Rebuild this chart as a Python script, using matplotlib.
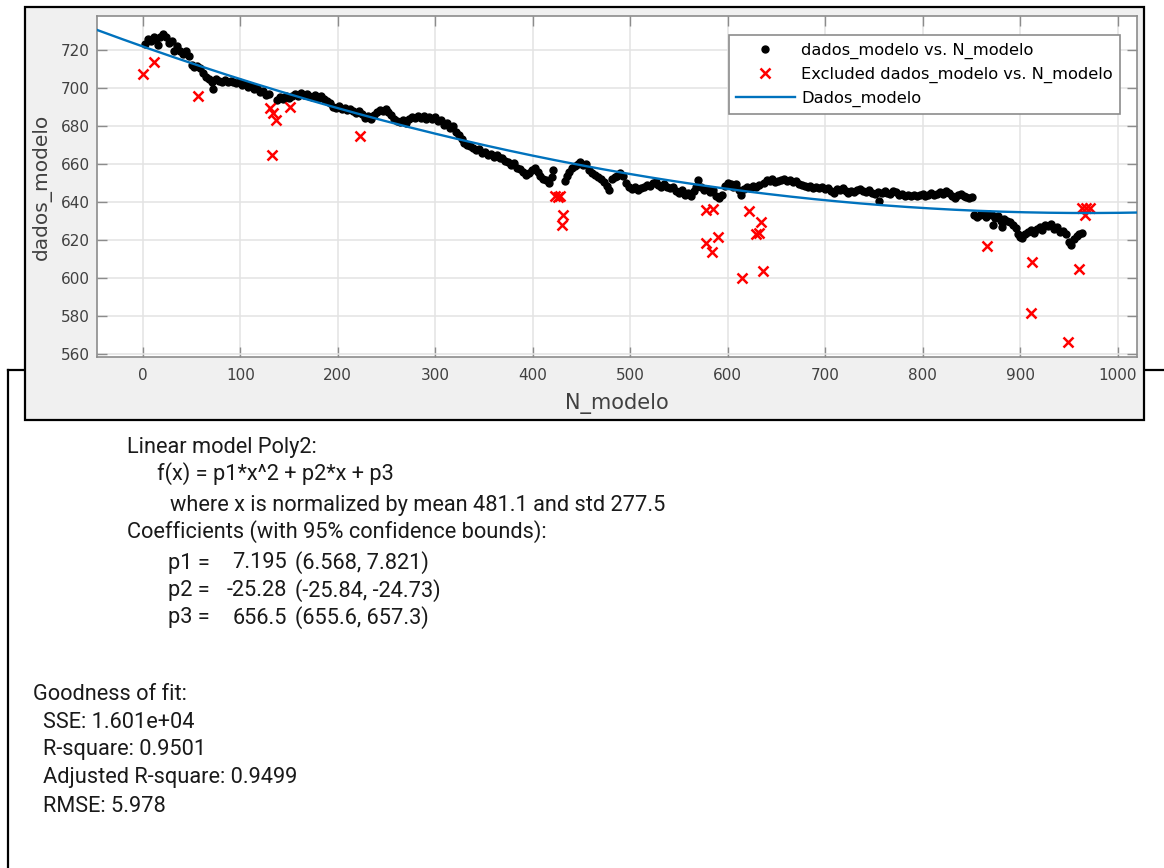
import numpy as np
import matplotlib
matplotlib.use("Agg")
import matplotlib.pyplot as plt
from matplotlib.patches import Rectangle
from matplotlib.lines import Line2D

# ----------------------------------------------------------------------------
# dados
# ----------------------------------------------------------------------------
N_modelo = [
    2, 5, 8, 11, 14, 16, 18, 21, 24, 27, 30, 32, 35, 38, 41, 44, 47, 50, 53, 56, 59,
    62, 65, 68, 71, 72, 75, 78, 81, 84, 87, 90, 93, 96, 99, 102, 105, 108, 111, 114,
    117, 120, 123, 126, 129, 138, 141, 144, 147, 150, 153, 156, 159, 162, 165, 168,
    171, 174, 177, 180, 183, 186, 189, 192, 195, 198, 201, 204, 207, 210, 213, 216,
    219, 222, 225, 228, 231, 234, 237, 240, 243, 246, 249, 252, 255, 258, 261, 264,
    267, 270, 273, 276, 279, 282, 285, 288, 291, 294, 297, 300, 303, 306, 309, 312,
    315, 318, 321, 324, 327, 330, 333, 336, 339, 342, 345, 348, 351, 354, 357, 360,
    363, 366, 369, 372, 375, 378, 381, 384, 387, 390, 393, 396, 399, 402, 405, 408,
    411, 414, 417, 420, 421, 433, 435, 437, 440, 443, 446, 449, 452, 455, 458, 461,
    464, 467, 470, 473, 476, 478, 481, 484, 487, 490, 493, 496, 499, 502, 505, 508,
    511, 514, 517, 520, 523, 526, 529, 532, 535, 538, 541, 544, 547, 550, 553, 556,
    559, 562, 565, 568, 570, 573, 576, 579, 582, 585, 588, 591, 594, 597, 600, 603,
    606, 609, 612, 614, 617, 620, 623, 626, 629, 632, 637, 640, 643, 646, 649, 652,
    655, 658, 661, 664, 667, 670, 673, 676, 679, 682, 685, 688, 691, 694, 697, 700,
    703, 706, 709, 712, 715, 718, 721, 724, 727, 730, 733, 736, 739, 742, 745, 748,
    751, 754, 755, 758, 761, 764, 767, 770, 773, 776, 779, 782, 785, 788, 791, 794,
    797, 800, 803, 806, 809, 812, 815, 818, 821, 824, 827, 830, 833, 836, 839, 842,
    845, 848, 851, 853, 856, 859, 862, 865, 868, 871, 872, 874, 877, 880, 882, 884,
    887, 890, 893, 896, 898, 900, 902, 905, 908, 911, 914, 917, 920, 923, 926, 929,
    932, 935, 938, 941, 944, 947, 950, 952, 955, 958, 961, 964,
]
dados_modelo = [
    723, 726, 725, 727, 726, 722.5, 727, 728.5, 727, 724, 725, 719.5, 722, 719.5, 718,
    719.5, 717, 712, 711, 711.5, 710.5,
    708, 706, 705, 703.5, 699.5, 705, 704, 703.5, 704.5, 703, 704, 703, 702.5, 703.5,
    701.5, 702, 700.5, 701, 699.5, 700, 698, 698.5, 696.5, 697, 694, 695.5, 694.5,
    696, 695, 696, 697, 696, 697.5, 696.5, 697, 696, 695.5, 696.5, 695, 696, 694.5,
    693, 692, 690, 689.5, 690.5, 689, 689.5, 688.5, 689, 688, 687, 688, 686.5, 684.5,
    685.5, 684, 686, 687.5, 688.5, 688, 689, 687.5, 686, 684, 682.5, 682, 683.5, 681.5,
    684, 685, 684.5, 685.5, 684.5, 685.5, 684, 685, 684, 685, 682.5, 683.5, 680.5,
    681.5, 679, 680, 677, 675.5, 673, 671, 670, 669.5, 668.5, 667.5, 668, 666, 666.5,
    665, 665.5, 664, 665, 663.5, 663, 661.5, 661, 659.5, 660.5, 658, 657.5, 656, 654.5,
    655.5, 657, 658, 656, 654, 652, 651.5, 650, 653.5, 657, 651, 654, 656, 658, 659,
    660, 661, 659.5, 660, 657, 655.5, 654.5, 653, 652, 650.5, 648.5, 646.5, 652, 653,
    654, 655.5, 654, 650, 648, 647, 648, 646.5, 647.5, 648, 649, 648.5, 650, 650.5,
    649, 648, 649.5, 648, 647.5, 648, 646, 645, 646.5, 644, 645, 643.5, 646, 648,
    651.5, 648, 646.5, 647, 645.5, 646.5, 643, 642, 644, 648.5, 650, 649.5, 648, 649.5,
    646.5, 644, 647, 648, 647.5, 648.5, 648, 649, 650, 651.5, 651, 652, 650.5, 651,
    651.5, 652, 651, 651.5, 650.5, 651, 649.5, 649, 648.5, 648, 648.5, 647.5, 648,
    647.5, 648, 647, 647.5, 646, 645, 647, 646.5, 647.5, 646, 645, 646, 645.5, 646.5,
    647, 646, 645.5, 646.5, 645, 644.5, 645.5, 640.5, 645, 646, 645, 644.5, 646, 645.5,
    644, 644.5, 643.5, 644, 643.5, 644, 643.5, 644, 644.5, 643.5, 644, 645, 644, 644.5,
    645.5, 644.5, 646, 645, 643.5, 642, 644, 644.5, 643.5, 642.5, 642, 642.5, 633, 632,
    633.5, 634, 632, 634, 633, 628, 631.5, 632.5, 630, 627, 631, 630, 629.5, 628, 626.5,
    623, 621.5, 621, 623, 624.5, 625.5, 624, 626, 627, 625.5, 628, 627.5, 628.5, 626,
    627, 624.5, 625, 623, 619, 617.5, 620.5, 622, 623, 624,
]

# pontos excluídos
N_excl = [0, 11, 57, 130, 134, 137, 133, 151, 223, 423, 426, 428, 431, 430,
          578, 585, 578, 584, 590, 615, 622, 629, 632, 634, 636, 866, 911, 912,
          949, 960, 964, 968, 972, 967]
dados_excl = [707.5, 714, 696, 689.5, 687, 683, 665, 690, 675, 643, 642.5, 643, 633, 628,
              636, 636.5, 618.5, 613.7, 621.5, 600, 635.3, 623.5, 624, 629.6, 604, 617, 581.8,
              608.6, 566.6, 605, 637, 637, 637, 633]

# modelo Poly2 (coeficientes do ajuste)
p1, p2, p3 = 7.195, -25.28, 656.5
x_mean, x_std = 481.1, 277.5

xticks = [0, 100, 200, 300, 400, 500, 600, 700, 800, 900, 1000]
yticks = [560, 580, 600, 620, 640, 660, 680, 700, 720]

info_modelo = [
    "Linear model Poly2:",
    "f(x) = p1*x^2 + p2*x + p3",
    "where x is normalized by mean 481.1 and std 277.5",
    "Coefficients (with 95% confidence bounds):",
]
coef_nomes = ["p1 =", "p2 =", "p3 ="]
coef_valores = ["7.195", "-25.28", "656.5"]
coef_limites = ["(6.568, 7.821)", "(-25.84, -24.73)", "(655.6, 657.3)"]
goodness = ["Goodness of fit:", "SSE: 1.601e+04", "R-square: 0.9501",
            "Adjusted R-square: 0.9499", "RMSE: 5.978"]

# ----------------------------------------------------------------------------
W, H = 1164, 868


def fx(x):
    return x / W


def fy(y):
    return 1 - y / H


fig = plt.figure(figsize=(W / 100, H / 100), dpi=100)
fig.patch.set_facecolor("white")

# painel cinza do cftool
fig.patches.append(Rectangle((fx(25), fy(420)), fx(1144) - fx(25), fy(7) - fy(420),
                             transform=fig.transFigure, facecolor="#f0f0f0",
                             edgecolor="black", linewidth=1.6, zorder=-5))
for xs, ys in [([8, 8], [370, 868]), ([8, 25], [370, 370]), ([1144, 1164], [370, 370])]:
    fig.lines.append(Line2D([fx(v) for v in xs], [fy(v) for v in ys],
                            transform=fig.transFigure, color="black", linewidth=1.6,
                            zorder=-5))

ax = fig.add_axes([fx(97), fy(357), fx(1137) - fx(97), fy(16) - fy(357)])
ax.set_zorder(1)
ax.set_facecolor("white")

ax.plot(N_modelo, dados_modelo, "o", color="black", markersize=5, linestyle="none",
        label="dados_modelo vs. N_modelo", zorder=3)
ax.plot(N_excl, dados_excl, "x", color="red", markersize=6.5, markeredgewidth=1.8,
        linestyle="none", label="Excluded dados_modelo vs. N_modelo", zorder=3)
x_fit = np.linspace(-47, 1020, 400)
z = (x_fit - x_mean) / x_std
ax.plot(x_fit, p1 * z**2 + p2 * z + p3, color="#0072BD", linewidth=1.7,
        label="Dados_modelo", zorder=4)

ax.set_xlim(-47, 1020)
ax.set_ylim(558.5, 738)
ax.set_xticks(xticks)
ax.set_yticks(yticks)
ax.grid(True, color="#e3e3e3", linewidth=1.1)
ax.set_axisbelow(True)
for s in ax.spines.values():
    s.set_color("#8c8c8c")
    s.set_linewidth(1.2)
ax.tick_params(direction="in", length=7, width=1, color="#8c8c8c",
               top=True, right=True, labelsize=11, labelcolor="#404040")
ax.tick_params(axis="x", pad=8)
ax.tick_params(axis="y", pad=5)

ax.set_xlabel("N_modelo", fontsize=15, color="#404040")
ax.set_ylabel("dados_modelo", fontsize=14.5, color="#404040")
ax.xaxis.set_label_coords(0.5, -0.105)
ax.yaxis.set_label_coords(-0.043, 0.5)

leg = ax.legend(loc="upper right", bbox_to_anchor=(fx(1120), fy(35)),
                bbox_transform=fig.transFigure, borderaxespad=0, fancybox=False,
                framealpha=1, edgecolor="#8c8c8c", fontsize=11.7, handlelength=3.6,
                labelspacing=0.5, borderpad=0.45, handletextpad=0.4)
leg.get_frame().set_linewidth(1.2)

# texto do resultado do ajuste
fnt = dict(family="Roboto", fontsize=15.7, color="#1a1a1a", va="center")
fig.text(fx(127), fy(447), info_modelo[0], **fnt)
fig.text(fx(157), fy(474), info_modelo[1], **fnt)
fig.text(fx(170), fy(505), info_modelo[2], **fnt)
fig.text(fx(127), fy(532), info_modelo[3], **fnt)
for i in range(3):
    yy = 563 + 27.5 * i
    fig.text(fx(168), fy(yy), coef_nomes[i], **fnt)
    fig.text(fx(287), fy(yy), coef_valores[i], ha="right", **fnt)
    fig.text(fx(295), fy(yy), coef_limites[i], **fnt)

fig.text(fx(33), fy(694), goodness[0], **fnt)
for i, t in enumerate(goodness[1:]):
    fig.text(fx(43), fy(722 + 28 * i), t, **fnt)

fig.savefig("out.png", dpi=100)
